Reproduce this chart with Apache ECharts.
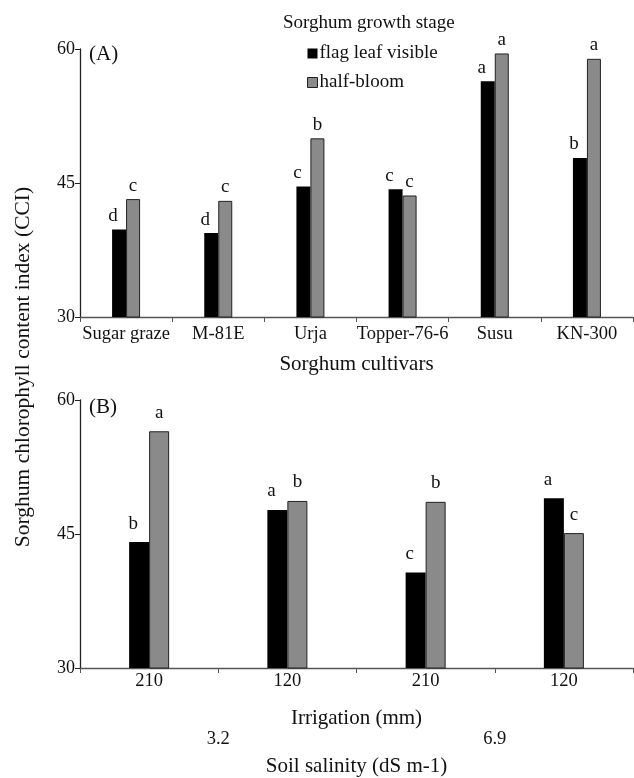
<!DOCTYPE html>
<html>
<head>
<meta charset="utf-8">
<script src="https://cdn.jsdelivr.net/npm/echarts@6/dist/echarts.min.js"></script>
<style>
  html, body { margin: 0; padding: 0; background: #fff; }
  #chart { width: 634px; height: 778px; }
</style>
</head>
<body>
<div id="chart"></div>
<script>
// panel A: cultivars
const cultivars = ['Sugar graze', 'M-81E', 'Urja', 'Topper-76-6', 'Susu', 'KN-300']
const flagLeafA = [39.8, 39.4, 44.6, 44.3, 56.4, 47.8]
const halfBloomA = [43.2, 43.0, 50.0, 43.6, 59.5, 58.9]
const flagLettersA = ['d', 'd', 'c', 'c', 'a', 'b']
const bloomLettersA = ['c', 'c', 'b', 'c', 'a', 'a']

// panel B: irrigation x salinity
const irrigation = ['210', '120', '210', '120']
const salinity = ['3.2', '6.9']
const flagLeafB = [44.1, 47.7, 40.7, 49.0]
const halfBloomB = [56.5, 48.7, 48.6, 45.1]
const flagLettersB = ['b', 'a', 'c', 'a']
const bloomLettersB = ['a', 'b', 'b', 'c']

const yTicks = { min: 30, max: 60, interval: 15 }

const font = 'Liberation Serif'
const ink = '#111'

const chart = echarts.init(document.getElementById('chart'))

function yAxisFor(gridIndex) {
  return {
    type: 'value',
    gridIndex: gridIndex,
    min: yTicks.min,
    max: yTicks.max,
    interval: yTicks.interval,
    axisLine: { show: true, lineStyle: { color: '#222', width: 1.3 } },
    axisTick: { show: true, length: 5, lineStyle: { color: '#222' } },
    axisLabel: { margin: 5, fontFamily: font, fontSize: 18, color: ink },
    splitLine: { show: false }
  }
}

function catAxis(gridIndex, data, name, labelMargin, nameGap) {
  return {
    type: 'category',
    gridIndex: gridIndex,
    data: data,
    axisLine: { show: true, lineStyle: { color: '#555', width: 1.3 } },
    axisTick: { show: true, length: 5, lineStyle: { color: '#555' } },
    axisLabel: { margin: labelMargin, interval: 0, fontFamily: font, fontSize: 18.5, color: ink },
    name: name,
    nameLocation: 'middle',
    nameGap: nameGap,
    nameTextStyle: { fontFamily: font, fontSize: 21, color: ink }
  }
}

function letterLabel(letters, dx, dist) {
  return {
    show: true,
    position: 'top',
    distance: dist,
    offset: [dx, 0],
    formatter: p => letters[p.dataIndex],
    fontFamily: font,
    fontSize: 19,
    color: ink
  }
}

const blackStyle = { color: '#000' }
const grayStyle = { color: '#8a8a8a', borderColor: '#222', borderWidth: 1 }

const option = {
  backgroundColor: '#fff',
  animation: false,
  grid: [
    { left: 80, right: 1, top: 49, height: 268 },
    { left: 80, right: 1, top: 400, height: 272 }
  ],
  legend: {
    orient: 'vertical',
    left: 302,
    top: 39,
    itemWidth: 10,
    itemHeight: 10,
    itemGap: 10,
    icon: 'rect',
    textStyle: { fontFamily: font, fontSize: 19, color: ink, padding: [0, 0, 0, -3] },
    data: [
      { name: 'flag leaf visible', itemStyle: { color: '#000' } },
      { name: 'half-bloom', itemStyle: { color: '#8a8a8a', borderColor: '#222', borderWidth: 1 } }
    ]
  },
  xAxis: [
    catAxis(0, cultivars, 'Sorghum cultivars', 8, 37),
    catAxis(1, irrigation, 'Irrigation (mm)', 4, 40),
    {
      type: 'category',
      gridIndex: 1,
      position: 'bottom',
      offset: 58,
      data: salinity,
      axisLine: { show: false },
      axisTick: { show: false },
      axisLabel: { margin: 4, fontFamily: font, fontSize: 18.5, color: ink },
      name: 'Soil salinity (dS m-1)',
      nameLocation: 'middle',
      nameGap: 30,
      nameTextStyle: { fontFamily: font, fontSize: 21, color: ink }
    }
  ],
  yAxis: [yAxisFor(0), yAxisFor(1)],
  graphic: [
    {
      type: 'text', left: 283, top: 14,
      style: { text: 'Sorghum growth stage', font: '19px "Liberation Serif"', fill: ink }
    },
    {
      type: 'text', left: 89, top: 44,
      style: { text: '(A)', font: '21px "Liberation Serif"', fill: ink }
    },
    {
      type: 'text', left: 89, top: 397,
      style: { text: '(B)', font: '21px "Liberation Serif"', fill: ink }
    },
    {
      type: 'text',
      x: 23, y: 367,
      rotation: Math.PI / 2,
      style: {
        text: 'Sorghum chlorophyll content index (CCI)',
        font: '21.5px "Liberation Serif"',
        fill: ink,
        align: 'center',
        verticalAlign: 'middle'
      }
    }
  ],
  series: [
    {
      name: 'flag leaf visible', type: 'bar', xAxisIndex: 0, yAxisIndex: 0,
      data: flagLeafA, barWidth: 14, barGap: '0%',
      itemStyle: blackStyle, label: letterLabel(flagLettersA, -6, 4)
    },
    {
      name: 'half-bloom', type: 'bar', xAxisIndex: 0, yAxisIndex: 0,
      data: halfBloomA, barWidth: 14, barGap: '0%',
      itemStyle: grayStyle, label: letterLabel(bloomLettersA, 0, 4)
    },
    {
      name: 'flag leaf visible', type: 'bar', xAxisIndex: 1, yAxisIndex: 1,
      data: flagLeafB, barWidth: 20, barGap: '0%',
      itemStyle: blackStyle, label: letterLabel(flagLettersB, -6, 9)
    },
    {
      name: 'half-bloom', type: 'bar', xAxisIndex: 1, yAxisIndex: 1,
      data: halfBloomB, barWidth: 20, barGap: '0%',
      itemStyle: grayStyle, label: letterLabel(bloomLettersB, 0, 9)
    }
  ]
}

chart.setOption(option)
</script>
</body>
</html>
